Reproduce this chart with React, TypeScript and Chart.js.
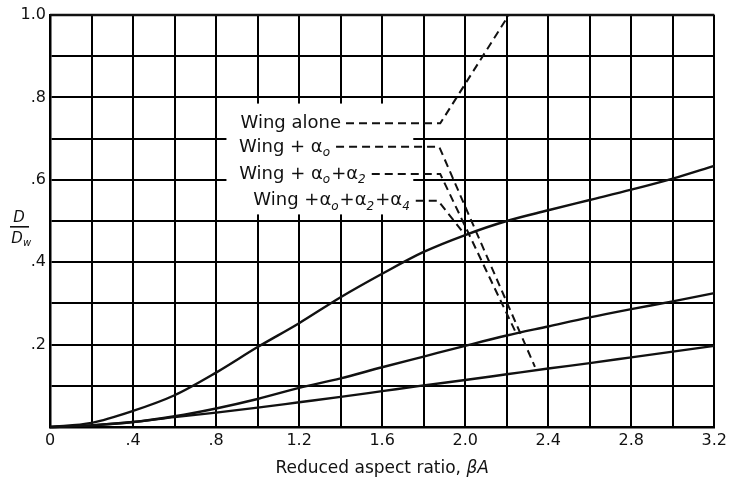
import React, { useEffect, useRef } from "react";
import { Chart, registerables } from "chart.js";

Chart.register(...registerables);

// ---- data ----
const xValues = [0, 0.2, 0.4, 0.6, 0.8, 1.0, 1.2, 1.4, 1.6, 1.8, 2.0, 2.2, 2.4, 2.6, 2.8, 3.0, 3.2];
const wingAlone = [1, 1, 1, 1, 1, 1, 1, 1, 1, 1, 1, 1, 1, 1, 1, 1, 1];
const wingA0 = [0, 0.004, 0.012, 0.024, 0.035, 0.047, 0.06, 0.073, 0.087, 0.101, 0.114, 0.128, 0.142, 0.155, 0.169, 0.183, 0.197];
const wingA0A2 = [0, 0.004, 0.012, 0.026, 0.045, 0.068, 0.095, 0.118, 0.145, 0.171, 0.197, 0.222, 0.244, 0.266, 0.286, 0.305, 0.325];
const wingA0A2A4 = [0, 0.01, 0.039, 0.077, 0.132, 0.194, 0.252, 0.315, 0.372, 0.425, 0.466, 0.5, 0.526, 0.551, 0.576, 0.603, 0.634];

// leader lines (label end -> curve), in data units
const leaderWingAloneX = [1.426, 1.88, 2.21];
const leaderWingAloneY = [0.737, 0.737, 1.0];
const leaderA0X = [1.378, 1.875, 2.336];
const leaderA0Y = [0.68, 0.68, 0.146];
const leaderA0A2X = [1.55, 1.88, 2.247];
const leaderA0A2Y = [0.614, 0.614, 0.226];
const leaderA4X = [1.762, 1.87, 2.0];
const leaderA4Y = [0.549, 0.549, 0.466];

const xTickLabels = ["0", ".4", ".8", "1.2", "1.6", "2.0", "2.4", "2.8", "3.2"];
const yTickLabels = ["", ".2", ".4", ".6", ".8", "1.0"];

const xTitle = "Reduced aspect ratio, ";
const xTitleItalic = "βA";

type Seg = { t: string; sub?: boolean };
const labelTexts: Seg[][] = [
  [{ t: "Wing alone" }],
  [{ t: "Wing + α" }, { t: "o", sub: true }],
  [{ t: "Wing + α" }, { t: "o", sub: true }, { t: "+α" }, { t: "2", sub: true }],
  [{ t: "Wing +α" }, { t: "o", sub: true }, { t: "+α" }, { t: "2", sub: true }, { t: "+α" }, { t: "4", sub: true }],
];
const labelAnchorX = [leaderWingAloneX[0], leaderA0X[0], leaderA0A2X[0], leaderA4X[0]];
const labelAnchorY = [leaderWingAloneY[0], leaderA0Y[0], leaderA0A2Y[0], leaderA4Y[0]];

// white box behind labels (data units)
const boxX = [0.85, 1.75];
const boxY = [0.516, 0.785];

const FONT = "'DejaVu Sans', sans-serif";

const pts = (xs: number[], ys: number[]) => xs.map((x, i) => ({ x, y: ys[i] }));

const annotPlugin = {
  id: "annot",
  beforeDatasetsDraw(chart: any) {
    const { ctx, scales } = chart;
    const x = scales.x, y = scales.y;
    ctx.save();
    ctx.fillStyle = "#fff";
    const l = x.getPixelForValue(boxX[0]);
    const r = x.getPixelForValue(boxX[1]);
    const t = y.getPixelForValue(boxY[1]);
    const b = y.getPixelForValue(boxY[0]);
    ctx.fillRect(l, t, r - l, b - t);
    ctx.restore();
  },
  afterDatasetsDraw(chart: any) {
    const { ctx, scales } = chart;
    const x = scales.x, y = scales.y;
    ctx.save();
    ctx.fillStyle = "#111";
    ctx.textBaseline = "middle";
    const mainFont = `18px ${FONT}`;
    const subFont = `italic 12px ${FONT}`;
    labelTexts.forEach((segs, i) => {
      let w = 0;
      segs.forEach((s) => {
        ctx.font = s.sub ? subFont : mainFont;
        w += ctx.measureText(s.t).width + (s.sub ? 1 : 0);
      });
      const right = x.getPixelForValue(labelAnchorX[i]) - 5;
      const cy = y.getPixelForValue(labelAnchorY[i]);
      let px = right - w;
      segs.forEach((s) => {
        ctx.font = s.sub ? subFont : mainFont;
        ctx.textAlign = "left";
        ctx.fillText(s.t, px, s.sub ? cy + 6 : cy);
        px += ctx.measureText(s.t).width + (s.sub ? 1 : 0);
      });
    });

    // x axis title
    ctx.textBaseline = "alphabetic";
    ctx.font = `17px ${FONT}`;
    const w1 = ctx.measureText(xTitle).width;
    ctx.font = `italic 17px ${FONT}`;
    const w2 = ctx.measureText(xTitleItalic).width;
    const cx = (chart.chartArea.left + chart.chartArea.right) / 2;
    const startX = cx - (w1 + w2) / 2;
    ctx.font = `17px ${FONT}`;
    ctx.fillText(xTitle, startX, 473);
    ctx.font = `italic 17px ${FONT}`;
    ctx.fillText(xTitleItalic, startX + w1, 473);

    // y axis title D / Dw
    ctx.font = `italic 15px ${FONT}`;
    ctx.textAlign = "center";
    ctx.fillText("D", 19, 222);
    ctx.fillRect(10, 226, 19, 1.6);
    ctx.fillText("D", 17, 243);
    ctx.font = `italic 10px ${FONT}`;
    ctx.fillText("w", 27, 246);
    ctx.restore();
  },
};

export default function App() {
  const ref = useRef<HTMLCanvasElement>(null);
  useEffect(() => {
    document.body.style.margin = "0";
    const canvas = ref.current!;
    const line = (data: any[], dash: number[] = [], width = 2.4) => ({
      data,
      borderColor: "#111",
      borderWidth: width,
      borderDash: dash,
      pointRadius: 0,
      fill: false,
      tension: 0,
      clip: false as any,
    });
    const chart = new Chart(canvas, {
      type: "line",
      data: {
        datasets: [
          { label: "Wing alone", ...line(pts(xValues, wingAlone), [], 2.5) },
          { label: "Wing + a0", ...line(pts(xValues, wingA0)), cubicInterpolationMode: "monotone" },
          { label: "Wing + a0 + a2", ...line(pts(xValues, wingA0A2)), cubicInterpolationMode: "monotone" },
          { label: "Wing + a0 + a2 + a4", ...line(pts(xValues, wingA0A2A4)), cubicInterpolationMode: "monotone" },
          { label: "leader wing alone", ...line(pts(leaderWingAloneX, leaderWingAloneY), [8, 5], 2) },
          { label: "leader a0", ...line(pts(leaderA0X, leaderA0Y), [8, 5], 2) },
          { label: "leader a0a2", ...line(pts(leaderA0A2X, leaderA0A2Y), [8, 5], 2) },
          { label: "leader a4", ...line(pts(leaderA4X, leaderA4Y), [8, 5], 2) },
        ] as any,
      },
      options: {
        animation: false,
        responsive: false,
        events: [],
        layout: { padding: { top: 15, right: 15, left: 0, bottom: 0 } },
        plugins: { legend: { display: false }, tooltip: { enabled: false } },
        scales: {
          x: {
            type: "linear",
            min: 0,
            max: 3.2,
            afterFit: (s: any) => { s.height = 51; },
            ticks: {
              stepSize: 0.2,
              autoSkip: false,
              maxRotation: 0,
              color: "#111",
              font: { family: FONT, size: 16 },
              padding: 4,
              callback: (v: any) => {
                const i = Math.round(Number(v) / 0.2);
                return i % 2 === 0 ? xTickLabels[i / 2] : "";
              },
            },
            grid: { color: "#000", lineWidth: 2, drawTicks: false },
            border: { color: "#000", width: 2.5 },
          },
          y: {
            type: "linear",
            min: 0,
            max: 1,
            afterFit: (s: any) => { s.width = 50; },
            ticks: {
              stepSize: 0.1,
              autoSkip: false,
              color: "#111",
              font: { family: FONT, size: 16 },
              padding: 4,
              callback: (v: any) => {
                const i = Math.round(Number(v) / 0.1);
                return i % 2 === 0 ? yTickLabels[i / 2] : "";
              },
            },
            grid: { color: "#000", lineWidth: 2, drawTicks: false },
            border: { color: "#000", width: 2.5 },
          },
        },
      },
      plugins: [annotPlugin],
    });
    return () => chart.destroy();
  }, []);
  return <canvas ref={ref} width={731} height={478} style={{ display: "block", width: 731, height: 478 }} />;
}
